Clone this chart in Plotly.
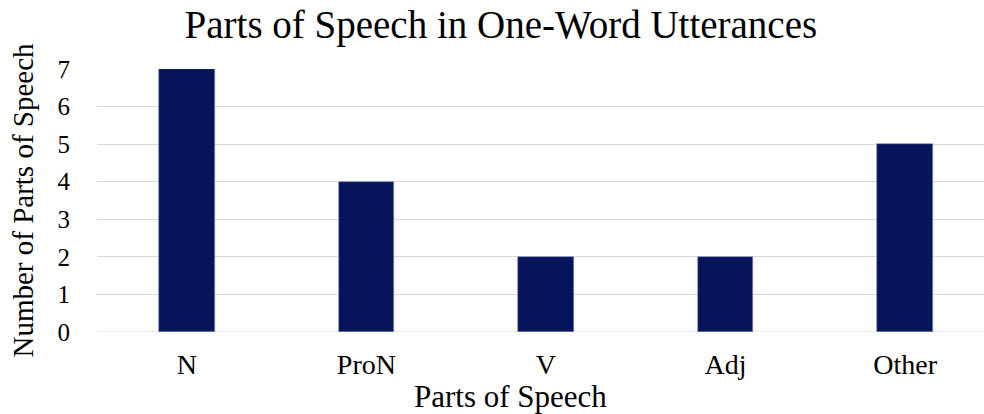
import plotly.graph_objects as go

categories = ["N", "ProN", "V", "Adj", "Other"]
counts = [7, 4, 2, 2, 5]
y_ticks = [0, 1, 2, 3, 4, 5, 6, 7]

SERIF = "Liberation Serif, Times New Roman, serif"

fig = go.Figure()
fig.add_trace(go.Bar(
    x=categories, y=counts, width=0.31,
    marker=dict(color="#06145c", line=dict(color="#7f8ab5", width=0.6)),
))

fig.update_layout(
    width=984, height=414,
    margin=dict(l=97, r=0, t=69, b=82),
    paper_bgcolor="white", plot_bgcolor="white",
    showlegend=False,
    font=dict(family=SERIF, color="#000000"),
    title=dict(text="Parts of Speech in One-Word Utterances",
               x=0.509, xanchor="center", y=0.94, yanchor="middle",
               font=dict(family=SERIF, size=39, color="#000000")),
    xaxis=dict(range=[-0.5, 4.439], showgrid=False, zeroline=False,
               tickfont=dict(size=28), ticks="", ticklen=0, ticklabelstandoff=13),
    yaxis=dict(range=[0, 7], tickvals=y_ticks, showgrid=True,
               gridcolor="#d9d9d9", gridwidth=1.2, zeroline=False,
               tickfont=dict(size=25), ticks="", ticklen=0, ticklabelstandoff=26,
               title=dict(text="Number of Parts of Speech", font=dict(size=29), standoff=15)),
    bargap=0,
)
fig.add_annotation(text="Parts of Speech", xref="paper", yref="paper",
                   x=0.4667, xanchor="center", y=-0.245, yanchor="middle",
                   showarrow=False, font=dict(family=SERIF, size=31, color="#000000"))
fig.add_hline(y=0, line=dict(color="#d9d9d9", width=1.2), layer="below")

fig.write_html("out.html")
